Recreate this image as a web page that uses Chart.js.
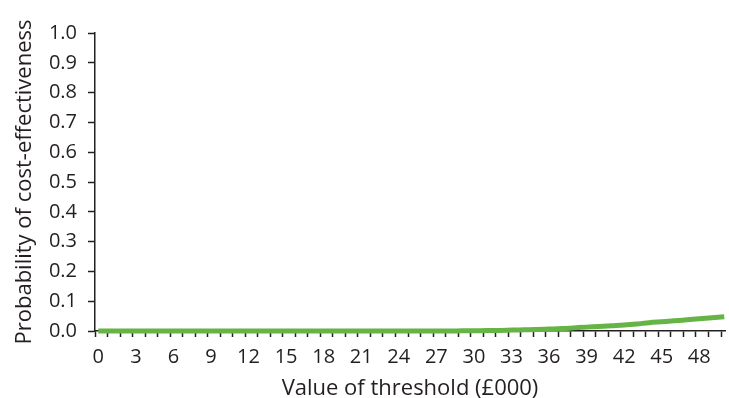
<!DOCTYPE html>
<html>
<head>
<meta charset="utf-8">
<script src="https://cdn.jsdelivr.net/npm/chart.js@4.4.1/dist/chart.umd.min.js"></script>
<style>
  html, body { margin: 0; padding: 0; background: #fff; }
  #wrap { width: 729px; height: 398px; }
</style>
</head>
<body>
<div id="wrap"><canvas id="chart"></canvas></div>
<script>
// threshold in £000
const thresholds = [0, 1, 2, 3, 4, 5, 6, 7, 8, 9, 10, 11, 12, 13, 14, 15, 16, 17, 18, 19, 20,
  21, 22, 23, 24, 25, 26, 27, 28, 29, 30, 31, 32, 33, 34, 35, 36, 37, 38, 39, 40,
  41, 42, 43, 44, 45, 46, 47, 48, 49, 50];
// probability of cost-effectiveness
const probability = [0, 0, 0, 0, 0, 0, 0, 0, 0, 0, 0, 0, 0, 0, 0, 0, 0, 0, 0, 0, 0,
  0, 0, 0, 0, 0, 0, 0, 0, 0.0005, 0.001, 0.0015, 0.002, 0.003, 0.004, 0.005, 0.0065, 0.008, 0.0105, 0.013, 0.015,
  0.0175, 0.02, 0.0235, 0.028, 0.031, 0.034, 0.0375, 0.041, 0.0445, 0.048];
const xTickLabels = [0, 3, 6, 9, 12, 15, 18, 21, 24, 27, 30, 33, 36, 39, 42, 45, 48];
const yTickLabels = ['0.0', '0.1', '0.2', '0.3', '0.4', '0.5', '0.6', '0.7', '0.8', '0.9', '1.0'];

const ink = '#231f20';
const tickFont = { family: 'Open Sans', size: 20 };
const tickShift = 0.26; // minor tick marks sit a little left of the labels

new Chart(document.getElementById('chart'), {
  type: 'line',
  data: {
    datasets: [{
      data: thresholds.map((t, i) => ({ x: t, y: probability[i] })),
      borderColor: '#66b446',
      borderWidth: 5,
      pointRadius: 0,
      cubicInterpolationMode: 'monotone',
      clip: false
    }]
  },
  options: {
    responsive: true,
    maintainAspectRatio: false,
    animation: false,
    layout: { padding: { top: 33, right: 0, left: 0, bottom: 0 } },
    plugins: { legend: { display: false }, tooltip: { enabled: false } },
    scales: {
      x: {
        type: 'linear',
        min: -tickShift,
        max: 50.06,
        afterBuildTicks: scale => {
          scale.ticks = thresholds.map(t => ({ value: t - tickShift }));
        },
        afterFit: scale => { scale.height = 67; },
        ticks: {
          autoSkip: false,
          maxRotation: 0,
          color: ink,
          font: tickFont,
          padding: 8,
          labelOffset: 3.3,
          callback: v => {
            const t = Math.round(v + tickShift);
            return xTickLabels.includes(t) ? String(t) : '';
          }
        },
        grid: { drawOnChartArea: false, tickLength: 6, color: ink, tickWidth: 1.5 },
        border: { color: ink, width: 1.5 },
        title: {
          display: true,
          text: 'Value of threshold (£000)',
          color: ink,
          font: { family: 'Open Sans', size: 22, lineHeight: 0.8 },
          padding: { top: 0, bottom: 0 }
        }
      },
      y: {
        min: 0,
        max: 1,
        afterFit: scale => { scale.width = 95; },
        ticks: {
          stepSize: 0.1,
          color: ink,
          font: tickFont,
          padding: 11,
          callback: (v, i) => yTickLabels[i]
        },
        grid: { drawOnChartArea: false, tickLength: 7, color: ink, tickWidth: 1.5 },
        border: { color: ink, width: 1.5 },
        title: {
          display: true,
          text: 'Probability of cost-effectiveness',
          color: ink,
          font: { family: 'Open Sans', size: 22 },
          padding: { top: 12, bottom: 0 }
        }
      }
    }
  }
});
</script>
</body>
</html>
